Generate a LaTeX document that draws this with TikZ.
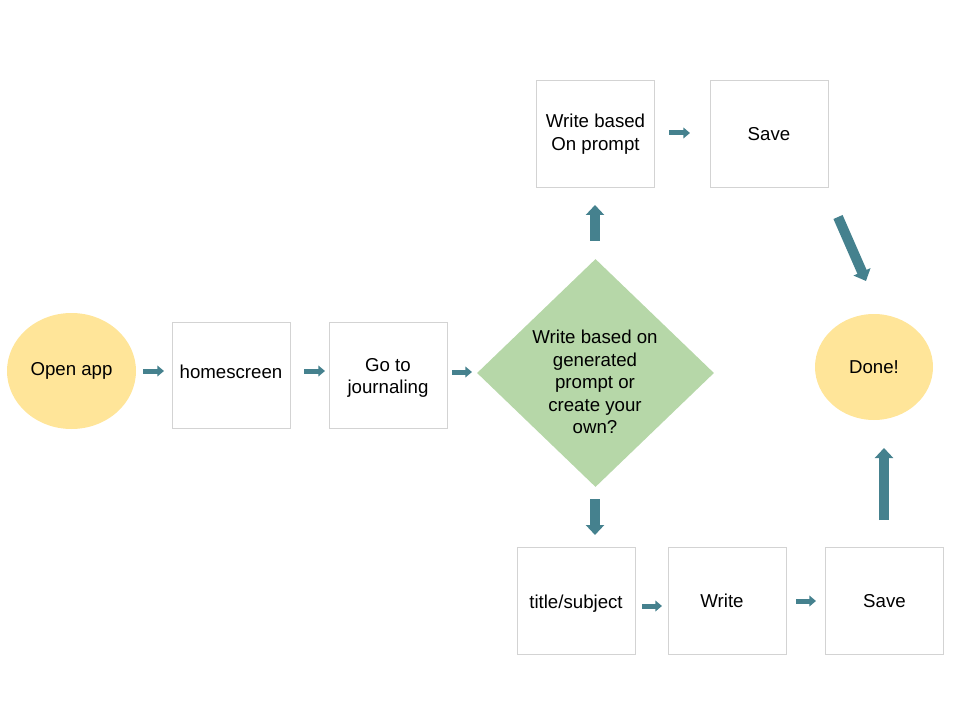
\documentclass[tikz,border=0pt]{standalone}
\usepackage{fontspec}
\setmainfont{Liberation Sans}
\usetikzlibrary{shapes.geometric,arrows.meta}
\definecolor{arr}{HTML}{45818E}
\definecolor{yel}{HTML}{FFE599}
\definecolor{grn}{HTML}{B6D7A8}
\definecolor{boxgray}{HTML}{D3D3D3}
\begin{document}
\begin{tikzpicture}[x=0.75pt,y=-0.75pt,
  txt/.style={font=\fontsize{14}{16.8}\selectfont, align=center},
  box/.style={txt, draw=boxgray, line width=0.75pt, minimum width=88.5pt, minimum height=80pt, inner sep=0pt},
  oval/.style={txt, ellipse, fill=yel, inner sep=0pt},
  decision/.style={diamond, fill=grn, inner sep=0pt, minimum width=177.75pt, minimum height=171pt},
  bigarrow/.style={draw=arr, line width=7.5pt, -{Triangle[length=7.5pt,width=13.5pt]}},
  smallarrow/.style={draw=arr, line width=3.75pt, -{Triangle[length=5pt,width=8pt]}}]
\useasboundingbox (0,0) rectangle (960,720);

% nodes
\node[oval, minimum width=96.75pt, minimum height=87pt] (open) at (71.5,371) {Open app};
\node[box, text height=10.2pt, text depth=6pt] (home) at (231,375.5) {homescreen};
\node[box] (journal) at (388,375.5) {};
\node[txt] (journalT) at (388,378) {Go to\\journaling};
\node[decision] (choice) at (595.5,373) {};
\node[txt] (question) at (595,382) {Write based on\\generated\\prompt or\\create your\\own?};
\node[box] (prompt) at (595.5,134) {Write based\\On prompt};
\node[box] (save1) at (769,134) {Save};
\node[box, text height=14.7pt, text depth=2.9pt] (subject) at (576,601) {title/subject};
\node[box] (write) at (727.5,601) {};
\node[txt] (writeT) at (722,601) {Write};
\node[box] (save2) at (884.5,601) {Save};
\node[oval, minimum width=88.5pt, minimum height=79.5pt] (done) at (874,367) {Done!};

% arrow end points
\coordinate (a1s) at (143,371); \coordinate (a1e) at (164,371);
\coordinate (a2s) at (304,371); \coordinate (a2e) at (325,371);
\coordinate (a3s) at (452,372); \coordinate (a3e) at (472,372);
\coordinate (a4s) at (595,241); \coordinate (a4e) at (595,205);
\coordinate (a5s) at (669,133); \coordinate (a5e) at (690,133);
\coordinate (a6s) at (838,217); \coordinate (a6e) at (866,281);
\coordinate (a7s) at (595,499); \coordinate (a7e) at (595,535);
\coordinate (a8s) at (642,606); \coordinate (a8e) at (662,606);
\coordinate (a9s) at (796,601); \coordinate (a9e) at (816,601);
\coordinate (a10s) at (884,520); \coordinate (a10e) at (884,448);

% arrows
\draw[smallarrow] (a1s) -- (a1e);
\draw[smallarrow] (a2s) -- (a2e);
\draw[smallarrow] (a3s) -- (a3e);
\draw[bigarrow] (a4s) -- (a4e);
\draw[smallarrow] (a5s) -- (a5e);
\draw[bigarrow] (a6s) -- (a6e);
\draw[bigarrow] (a7s) -- (a7e);
\draw[smallarrow] (a8s) -- (a8e);
\draw[smallarrow] (a9s) -- (a9e);
\draw[bigarrow] (a10s) -- (a10e);
\end{tikzpicture}
\end{document}
